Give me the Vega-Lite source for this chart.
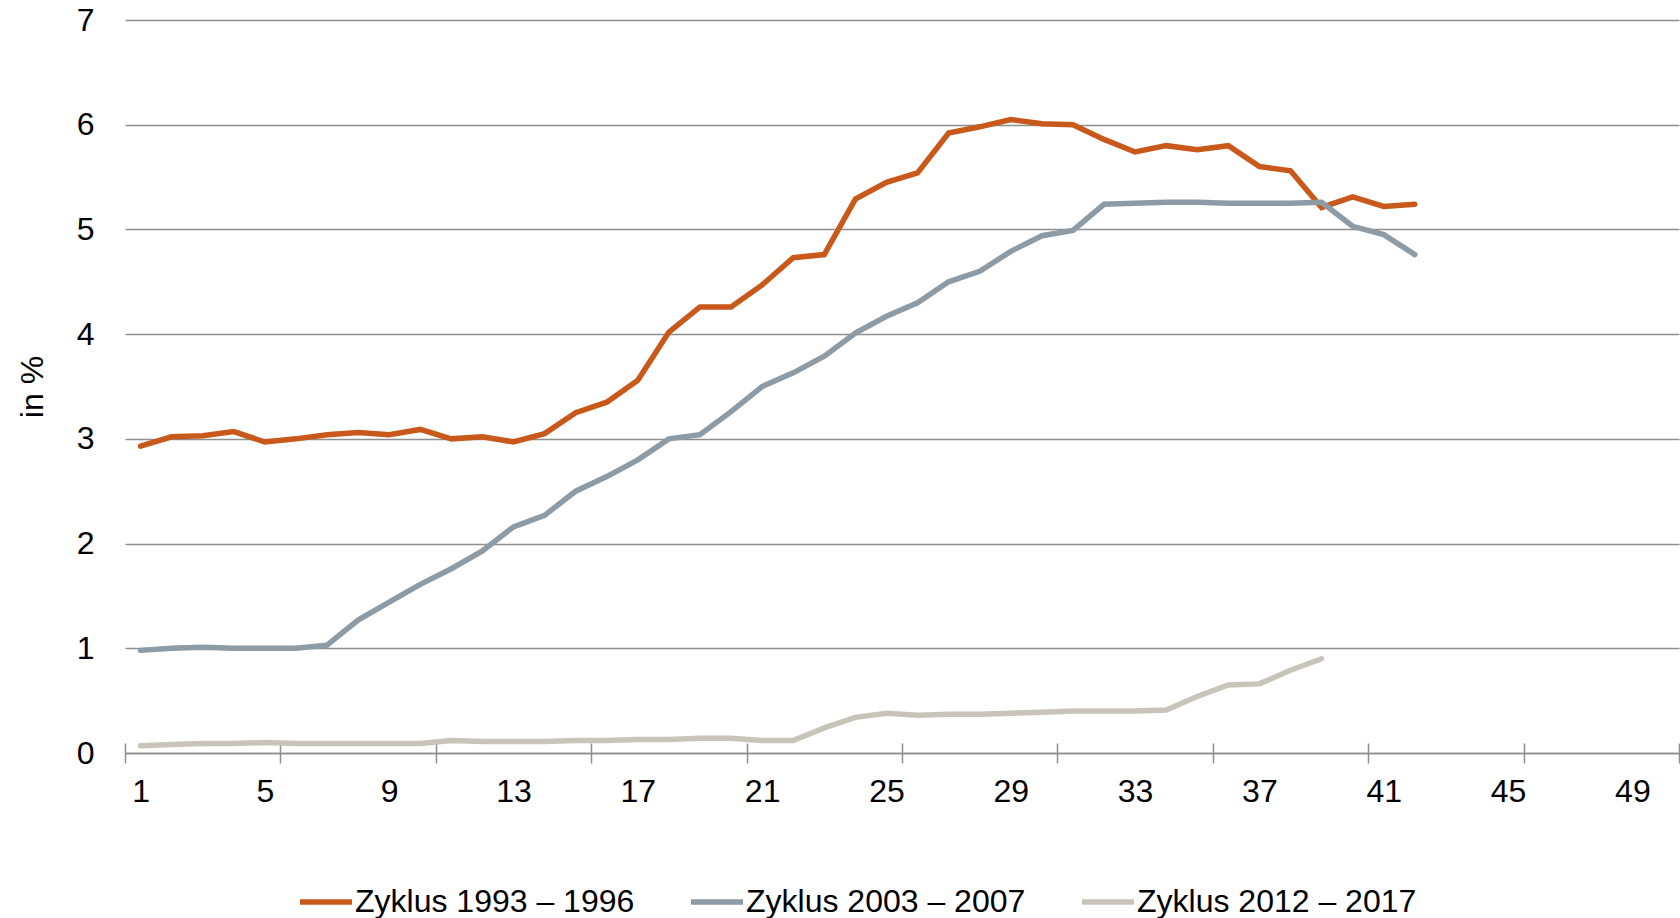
{
  "$schema": "https://vega.github.io/schema/vega-lite/v6.json",
  "width": 1554,
  "height": 733,
  "autosize": {"type": "none"},
  "padding": {"left": 125, "top": 20, "right": 1, "bottom": 165},
  "config": {"font": "Liberation Sans", "view": {"stroke": null}},
  "data": {"values": [
    {"s": "Zyklus 1993 – 1996", "t": 1, "v": 2.93}, {"s": "Zyklus 1993 – 1996", "t": 2, "v": 3.02}, {"s": "Zyklus 1993 – 1996", "t": 3, "v": 3.03}, {"s": "Zyklus 1993 – 1996", "t": 4, "v": 3.07}, {"s": "Zyklus 1993 – 1996", "t": 5, "v": 2.97}, {"s": "Zyklus 1993 – 1996", "t": 6, "v": 3.0}, {"s": "Zyklus 1993 – 1996", "t": 7, "v": 3.04}, {"s": "Zyklus 1993 – 1996", "t": 8, "v": 3.06}, {"s": "Zyklus 1993 – 1996", "t": 9, "v": 3.04}, {"s": "Zyklus 1993 – 1996", "t": 10, "v": 3.09},
    {"s": "Zyklus 1993 – 1996", "t": 11, "v": 3.0}, {"s": "Zyklus 1993 – 1996", "t": 12, "v": 3.02}, {"s": "Zyklus 1993 – 1996", "t": 13, "v": 2.97}, {"s": "Zyklus 1993 – 1996", "t": 14, "v": 3.05}, {"s": "Zyklus 1993 – 1996", "t": 15, "v": 3.25}, {"s": "Zyklus 1993 – 1996", "t": 16, "v": 3.35}, {"s": "Zyklus 1993 – 1996", "t": 17, "v": 3.56}, {"s": "Zyklus 1993 – 1996", "t": 18, "v": 4.02}, {"s": "Zyklus 1993 – 1996", "t": 19, "v": 4.26}, {"s": "Zyklus 1993 – 1996", "t": 20, "v": 4.26},
    {"s": "Zyklus 1993 – 1996", "t": 21, "v": 4.47}, {"s": "Zyklus 1993 – 1996", "t": 22, "v": 4.73}, {"s": "Zyklus 1993 – 1996", "t": 23, "v": 4.76}, {"s": "Zyklus 1993 – 1996", "t": 24, "v": 5.29}, {"s": "Zyklus 1993 – 1996", "t": 25, "v": 5.45}, {"s": "Zyklus 1993 – 1996", "t": 26, "v": 5.54}, {"s": "Zyklus 1993 – 1996", "t": 27, "v": 5.92}, {"s": "Zyklus 1993 – 1996", "t": 28, "v": 5.98}, {"s": "Zyklus 1993 – 1996", "t": 29, "v": 6.05}, {"s": "Zyklus 1993 – 1996", "t": 30, "v": 6.01},
    {"s": "Zyklus 1993 – 1996", "t": 31, "v": 6.0}, {"s": "Zyklus 1993 – 1996", "t": 32, "v": 5.86}, {"s": "Zyklus 1993 – 1996", "t": 33, "v": 5.74}, {"s": "Zyklus 1993 – 1996", "t": 34, "v": 5.8}, {"s": "Zyklus 1993 – 1996", "t": 35, "v": 5.76}, {"s": "Zyklus 1993 – 1996", "t": 36, "v": 5.8}, {"s": "Zyklus 1993 – 1996", "t": 37, "v": 5.6}, {"s": "Zyklus 1993 – 1996", "t": 38, "v": 5.56}, {"s": "Zyklus 1993 – 1996", "t": 39, "v": 5.21}, {"s": "Zyklus 1993 – 1996", "t": 40, "v": 5.31},
    {"s": "Zyklus 1993 – 1996", "t": 41, "v": 5.22}, {"s": "Zyklus 1993 – 1996", "t": 42, "v": 5.24},
    {"s": "Zyklus 2003 – 2007", "t": 1, "v": 0.98}, {"s": "Zyklus 2003 – 2007", "t": 2, "v": 1.0}, {"s": "Zyklus 2003 – 2007", "t": 3, "v": 1.01}, {"s": "Zyklus 2003 – 2007", "t": 4, "v": 1.0}, {"s": "Zyklus 2003 – 2007", "t": 5, "v": 1.0}, {"s": "Zyklus 2003 – 2007", "t": 6, "v": 1.0}, {"s": "Zyklus 2003 – 2007", "t": 7, "v": 1.03}, {"s": "Zyklus 2003 – 2007", "t": 8, "v": 1.27}, {"s": "Zyklus 2003 – 2007", "t": 9, "v": 1.44}, {"s": "Zyklus 2003 – 2007", "t": 10, "v": 1.61},
    {"s": "Zyklus 2003 – 2007", "t": 11, "v": 1.76}, {"s": "Zyklus 2003 – 2007", "t": 12, "v": 1.93}, {"s": "Zyklus 2003 – 2007", "t": 13, "v": 2.16}, {"s": "Zyklus 2003 – 2007", "t": 14, "v": 2.27}, {"s": "Zyklus 2003 – 2007", "t": 15, "v": 2.5}, {"s": "Zyklus 2003 – 2007", "t": 16, "v": 2.64}, {"s": "Zyklus 2003 – 2007", "t": 17, "v": 2.8}, {"s": "Zyklus 2003 – 2007", "t": 18, "v": 3.0}, {"s": "Zyklus 2003 – 2007", "t": 19, "v": 3.04}, {"s": "Zyklus 2003 – 2007", "t": 20, "v": 3.26},
    {"s": "Zyklus 2003 – 2007", "t": 21, "v": 3.5}, {"s": "Zyklus 2003 – 2007", "t": 22, "v": 3.63}, {"s": "Zyklus 2003 – 2007", "t": 23, "v": 3.79}, {"s": "Zyklus 2003 – 2007", "t": 24, "v": 4.01}, {"s": "Zyklus 2003 – 2007", "t": 25, "v": 4.17}, {"s": "Zyklus 2003 – 2007", "t": 26, "v": 4.3}, {"s": "Zyklus 2003 – 2007", "t": 27, "v": 4.5}, {"s": "Zyklus 2003 – 2007", "t": 28, "v": 4.6}, {"s": "Zyklus 2003 – 2007", "t": 29, "v": 4.79}, {"s": "Zyklus 2003 – 2007", "t": 30, "v": 4.94},
    {"s": "Zyklus 2003 – 2007", "t": 31, "v": 4.99}, {"s": "Zyklus 2003 – 2007", "t": 32, "v": 5.24}, {"s": "Zyklus 2003 – 2007", "t": 33, "v": 5.25}, {"s": "Zyklus 2003 – 2007", "t": 34, "v": 5.26}, {"s": "Zyklus 2003 – 2007", "t": 35, "v": 5.26}, {"s": "Zyklus 2003 – 2007", "t": 36, "v": 5.25}, {"s": "Zyklus 2003 – 2007", "t": 37, "v": 5.25}, {"s": "Zyklus 2003 – 2007", "t": 38, "v": 5.25}, {"s": "Zyklus 2003 – 2007", "t": 39, "v": 5.26}, {"s": "Zyklus 2003 – 2007", "t": 40, "v": 5.03},
    {"s": "Zyklus 2003 – 2007", "t": 41, "v": 4.95}, {"s": "Zyklus 2003 – 2007", "t": 42, "v": 4.76},
    {"s": "Zyklus 2012 – 2017", "t": 1, "v": 0.07}, {"s": "Zyklus 2012 – 2017", "t": 2, "v": 0.08}, {"s": "Zyklus 2012 – 2017", "t": 3, "v": 0.09}, {"s": "Zyklus 2012 – 2017", "t": 4, "v": 0.09}, {"s": "Zyklus 2012 – 2017", "t": 5, "v": 0.1}, {"s": "Zyklus 2012 – 2017", "t": 6, "v": 0.09}, {"s": "Zyklus 2012 – 2017", "t": 7, "v": 0.09}, {"s": "Zyklus 2012 – 2017", "t": 8, "v": 0.09}, {"s": "Zyklus 2012 – 2017", "t": 9, "v": 0.09}, {"s": "Zyklus 2012 – 2017", "t": 10, "v": 0.09},
    {"s": "Zyklus 2012 – 2017", "t": 11, "v": 0.12}, {"s": "Zyklus 2012 – 2017", "t": 12, "v": 0.11}, {"s": "Zyklus 2012 – 2017", "t": 13, "v": 0.11}, {"s": "Zyklus 2012 – 2017", "t": 14, "v": 0.11}, {"s": "Zyklus 2012 – 2017", "t": 15, "v": 0.12}, {"s": "Zyklus 2012 – 2017", "t": 16, "v": 0.12}, {"s": "Zyklus 2012 – 2017", "t": 17, "v": 0.13}, {"s": "Zyklus 2012 – 2017", "t": 18, "v": 0.13}, {"s": "Zyklus 2012 – 2017", "t": 19, "v": 0.14}, {"s": "Zyklus 2012 – 2017", "t": 20, "v": 0.14},
    {"s": "Zyklus 2012 – 2017", "t": 21, "v": 0.12}, {"s": "Zyklus 2012 – 2017", "t": 22, "v": 0.12}, {"s": "Zyklus 2012 – 2017", "t": 23, "v": 0.24}, {"s": "Zyklus 2012 – 2017", "t": 24, "v": 0.34}, {"s": "Zyklus 2012 – 2017", "t": 25, "v": 0.38}, {"s": "Zyklus 2012 – 2017", "t": 26, "v": 0.36}, {"s": "Zyklus 2012 – 2017", "t": 27, "v": 0.37}, {"s": "Zyklus 2012 – 2017", "t": 28, "v": 0.37}, {"s": "Zyklus 2012 – 2017", "t": 29, "v": 0.38}, {"s": "Zyklus 2012 – 2017", "t": 30, "v": 0.39},
    {"s": "Zyklus 2012 – 2017", "t": 31, "v": 0.4}, {"s": "Zyklus 2012 – 2017", "t": 32, "v": 0.4}, {"s": "Zyklus 2012 – 2017", "t": 33, "v": 0.4}, {"s": "Zyklus 2012 – 2017", "t": 34, "v": 0.41}, {"s": "Zyklus 2012 – 2017", "t": 35, "v": 0.54}, {"s": "Zyklus 2012 – 2017", "t": 36, "v": 0.65}, {"s": "Zyklus 2012 – 2017", "t": 37, "v": 0.66}, {"s": "Zyklus 2012 – 2017", "t": 38, "v": 0.79}, {"s": "Zyklus 2012 – 2017", "t": 39, "v": 0.9}
  ]},
  "encoding": {
    "y": {
      "field": "v", "type": "quantitative",
      "scale": {"domain": [0, 7], "nice": false, "zero": true},
      "axis": {
        "values": [0, 1, 2, 3, 4, 5, 6, 7],
        "title": "in %", "titleFontSize": 32, "titleFontWeight": "normal", "titleColor": "#000000", "titlePadding": 27,
        "labelFontSize": 32, "labelColor": "#000000", "labelPadding": 31,
        "domain": false, "ticks": false,
        "grid": true, "gridColor": "#8e8e8e", "gridWidth": 1.5
      }
    },
    "color": {
      "field": "s", "type": "nominal",
      "scale": {"domain": ["Zyklus 1993 – 1996", "Zyklus 2003 – 2007", "Zyklus 2012 – 2017"], "range": ["#C8591A", "#8C9BA5", "#C9C4B9"]},
      "legend": {
        "title": null, "orient": "none", "direction": "horizontal",
        "legendX": 172, "legendY": 853,
        "symbolType": "stroke", "symbolStrokeWidth": 5.5, "symbolSize": 2704,
        "labelFontSize": 32, "labelColor": "#000000", "labelOffset": 0, "labelLimit": 0,
        "columnPadding": 45
      }
    }
  },
  "layer": [
    {
      "transform": [{"filter": "datum.s == 'Zyklus 2012 – 2017'"}],
      "mark": {"type": "line", "strokeWidth": 5.5, "strokeCap": "round"},
      "encoding": {
        "x": {
          "field": "t", "type": "quantitative",
          "scale": {"domain": [0.5, 50.5], "nice": false, "zero": false},
          "axis": {
            "orient": "bottom",
            "values": [1, 5, 9, 13, 17, 21, 25, 29, 33, 37, 41, 45, 49],
            "title": null, "grid": false, "ticks": false,
            "domain": true, "domainColor": "#8e8e8e", "domainWidth": 1.5,
            "labelFontSize": 32, "labelColor": "#000000", "labelPadding": 23, "labelOverlap": false
          }
        }
      }
    },
    {
      "transform": [{"filter": "datum.s != 'Zyklus 2012 – 2017'"}],
      "mark": {"type": "line", "strokeWidth": 5.5, "strokeCap": "round"},
      "encoding": {
        "x": {
          "field": "t", "type": "quantitative",
          "scale": {"domain": [0.5, 50.5], "nice": false, "zero": false},
          "axis": {
            "orient": "bottom", "offset": -10,
            "values": [0.5, 5.5, 10.5, 15.5, 20.5, 25.5, 30.5, 35.5, 40.5, 45.5, 50.5],
            "title": null, "grid": false, "labels": false, "domain": false,
            "ticks": true, "tickSize": 20, "tickColor": "#8e8e8e", "tickWidth": 1.5
          }
        }
      }
    }
  ],
  "resolve": {"axis": {"x": "independent"}}
}
